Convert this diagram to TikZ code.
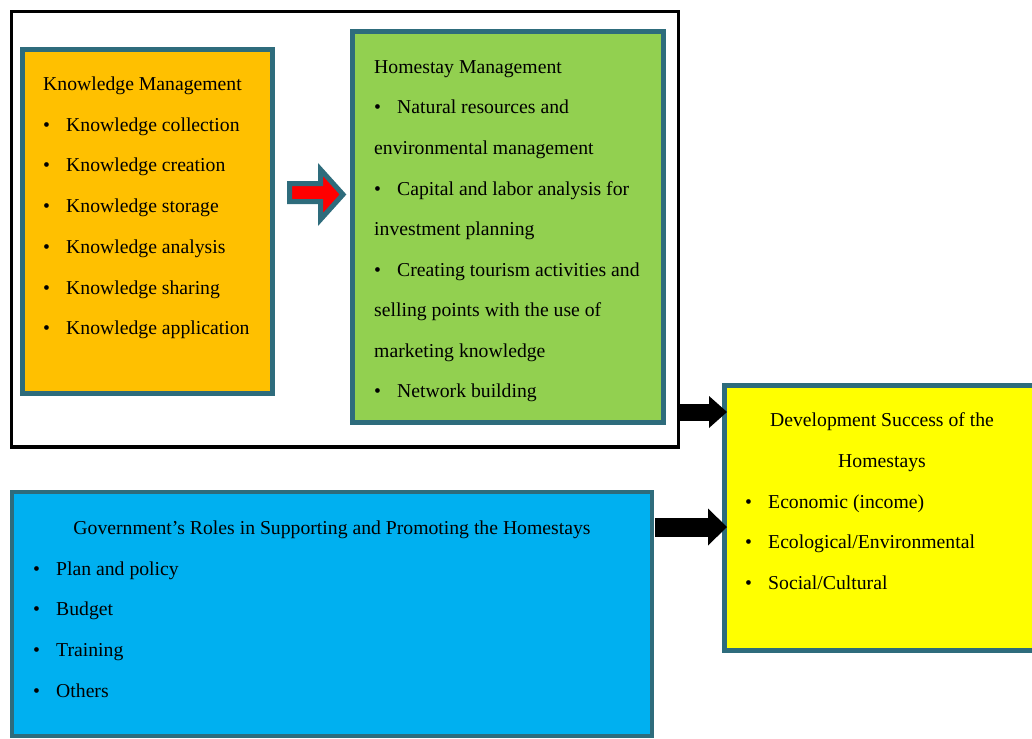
\documentclass[tikz,border=0pt]{standalone}
\usepackage{fontspec}
\setmainfont{Liberation Serif}
\usetikzlibrary{arrows.meta}
\definecolor{edge}{RGB}{46,108,124}
\definecolor{kmfill}{RGB}{255,192,0}
\definecolor{hmfill}{RGB}{146,208,80}
\definecolor{dsfill}{RGB}{255,255,0}
\definecolor{gvfill}{RGB}{0,176,240}
\tikzset{
  panel/.style={draw=edge, line width=4.5pt, rectangle, inner sep=0pt, outer sep=0pt},
  txt/.style={anchor=base west, inner sep=0pt, yshift=-1.5pt, font=\fontsize{19.7}{24}\selectfont},
  ctxt/.style={anchor=base, inner sep=0pt, yshift=-1.5pt, font=\fontsize{19.7}{24}\selectfont},
  blk/.style={draw=black, line width=#1},
}
\begin{document}
\begin{tikzpicture}[x=1pt, y=-1pt]
\useasboundingbox (0,0) rectangle (1032,738);

% outer frame around the two management blocks
\node[draw=black, line width=3.5pt, rectangle, inner sep=0pt, outer sep=0pt,
      minimum width=667pt, minimum height=435.5pt] (frame) at (345,229.25) {};

% panels
\node[panel, fill=kmfill, minimum width=250pt, minimum height=344pt] (km) at (147.5,221.5) {};
\node[panel, fill=hmfill, minimum width=311pt, minimum height=391pt] (hm) at (508,227) {};
\node[panel, fill=dsfill, minimum width=316pt, minimum height=265pt] (ds) at (882.5,518) {};
\node[panel, fill=gvfill, minimum width=640pt, minimum height=244pt] (gv) at (332,614) {};

% Knowledge Management
\node[txt] (km0) at (43,89) {Knowledge Management};
\foreach \t [count=\i] in {Knowledge collection, Knowledge creation, Knowledge storage,
  Knowledge analysis, Knowledge sharing, Knowledge application}{
  \node[txt] (kmb\i) at (43,89+40.7*\i) {•};
  \node[txt] (kmt\i) at (66,89+40.7*\i) {\t};
}

% Homestay Management
\node[txt] (hm0) at (374,72) {Homestay Management};
\node[txt] (hmb1) at (374,112) {•};
\node[txt] (hmt1) at (397,112) {Natural resources and};
\node[txt] (hmc1) at (374,153) {environmental management};
\node[txt] (hmb2) at (374,194) {•};
\node[txt] (hmt2) at (397,194) {Capital and labor analysis for};
\node[txt] (hmc2) at (374,234) {investment planning};
\node[txt] (hmb3) at (374,275) {•};
\node[txt] (hmt3) at (397,275) {Creating tourism activities and};
\node[txt] (hmc3) at (374,315) {selling points with the use of};
\node[txt] (hmd3) at (374,356) {marketing knowledge};
\node[txt] (hmb4) at (374,396) {•};
\node[txt] (hmt4) at (397,396) {Network building};

% Development Success
\node[ctxt] (ds0) at (882,425) {Development Success of the};
\node[ctxt] (ds1) at (882,466) {Homestays};
\foreach \t [count=\i] in {Economic (income), Ecological/Environmental, Social/Cultural}{
  \node[txt] (dsb\i) at (745,466+40.5*\i) {•};
  \node[txt] (dst\i) at (768,466+40.5*\i) {\t};
}

% Government's roles
\node[ctxt] (gv0) at (332,533) {Government’s Roles in Supporting and Promoting the Homestays};
\foreach \t [count=\i] in {Plan and policy, Budget, Training, Others}{
  \node[txt] (gvb\i) at (33,533+40.7*\i) {•};
  \node[txt] (gvt\i) at (56,533+40.7*\i) {\t};
}

% red block arrow between the two management panels
\coordinate (ra) at (317,194.5);
\draw[draw=edge, fill=red, line width=5pt, line join=miter]
  (289.5,183.5) -- (320.5,183.5) -- (320.5,169.5) -- (343,194.5)
  -- (320.5,219.5) -- (320.5,201.5) -- (289.5,201.5) -- cycle;

% black arrows into the success panel
\draw[blk=17pt, -{Triangle[length=18pt,width=32pt,line width=0pt]}, shorten >=-2.5pt]
  (frame.east |- 0,412) -- (ds.west |- 0,412);
\draw[blk=19pt, -{Triangle[length=19pt,width=37pt,line width=0pt]}, shorten >=-2.5pt, shorten <=3pt]
  (gv.east |- 0,527) -- (ds.west |- 0,527);
\end{tikzpicture}
\end{document}
